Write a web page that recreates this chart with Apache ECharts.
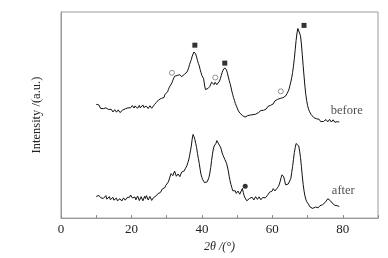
<!DOCTYPE html>
<html><head><meta charset="utf-8">
<script src="https://cdn.jsdelivr.net/npm/echarts@6/dist/echarts.min.js"></script>
<style>html,body{margin:0;padding:0;background:#fff}#c{width:388px;height:258px}</style>
</head><body><div id="c"></div>
<script>
var theta = [10,10.25,10.5,10.75,11,11.25,11.5,11.75,12,12.25,12.5,12.75,13,13.25,13.5,13.75,14,14.25,14.5,14.75,15,15.25,15.5,15.75,16,16.25,16.5,16.75,17,17.25,17.5,17.75,18,18.25,18.5,18.75,19,19.25,19.5,19.75,20,20.25,20.5,20.75,21,21.25,21.5,21.75,22,22.25,22.5,22.75,23,23.25,23.5,23.75,24,24.25,24.5,24.75,25,25.25,25.5,25.75,26,26.25,26.5,26.75,27,27.25,27.5,27.75,28,28.25,28.5,28.75,29,29.25,29.5,29.75,30,30.25,30.5,30.75,31,31.25,31.5,31.75,32,32.25,32.5,32.75,33,33.25,33.5,33.75,34,34.25,34.5,34.75,35,35.25,35.5,35.75,36,36.25,36.5,36.75,37,37.25,37.5,37.75,38,38.25,38.5,38.75,39,39.25,39.5,39.75,40,40.25,40.5,40.75,41,41.25,41.5,41.75,42,42.25,42.5,42.75,43,43.25,43.5,43.75,44,44.25,44.5,44.75,45,45.25,45.5,45.75,46,46.25,46.5,46.75,47,47.25,47.5,47.75,48,48.25,48.5,48.75,49,49.25,49.5,49.75,50,50.25,50.5,50.75,51,51.25,51.5,51.75,52,52.25,52.5,52.75,53,53.25,53.5,53.75,54,54.25,54.5,54.75,55,55.25,55.5,55.75,56,56.25,56.5,56.75,57,57.25,57.5,57.75,58,58.25,58.5,58.75,59,59.25,59.5,59.75,60,60.25,60.5,60.75,61,61.25,61.5,61.75,62,62.25,62.5,62.75,63,63.25,63.5,63.75,64,64.25,64.5,64.75,65,65.25,65.5,65.75,66,66.25,66.5,66.75,67,67.25,67.5,67.75,68,68.25,68.5,68.75,69,69.25,69.5,69.75,70,70.25,70.5,70.75,71,71.25,71.5,71.75,72,72.25,72.5,72.75,73,73.25,73.5,73.75,74,74.25,74.5,74.75,75,75.25,75.5,75.75,76,76.25,76.5,76.75,77,77.25,77.5,77.75,78,78.25,78.5,78.75,79];
var beforeVals = [55.2,54.3,54.4,54.9,54.0,53.2,53.4,54.0,53.1,52.4,53.2,53.5,52.6,53.3,52.7,51.9,52.3,52.8,52.1,51.5,51.8,52.6,52.3,51.4,51.6,52.5,51.9,51.2,51.8,52.0,52.4,53.2,52.7,53.0,53.4,52.9,53.5,54.3,54.2,53.5,54.0,54.6,53.7,53.4,54.4,54.8,53.9,53.3,54.2,54.7,53.5,53.1,54.4,54.9,53.7,53.0,53.4,54.3,54.0,53.2,53.4,54.5,53.9,53.3,54.0,54.2,55.0,55.8,56.0,55.6,56.5,57.4,57.3,57.1,58.1,59.0,58.7,58.5,60.0,60.9,60.8,61.2,62.4,63.5,63.7,64.2,65.6,66.9,67.6,68.8,68.5,68.0,69.2,68.4,68.9,69.6,69.5,68.6,68.5,69.4,69.7,70.5,70.2,70.8,71.8,73.0,74.5,75.8,76.9,78.6,79.4,80.6,80.5,79.6,78.2,76.4,75.0,73.9,72.1,70.6,69.2,68.9,67.6,64.6,62.4,61.6,62.1,62.9,63.7,63.9,64.8,65.9,66.8,65.7,64.8,65.9,65.6,64.7,64.4,65.0,66.5,67.6,69.2,70.6,71.8,72.5,72.9,72.8,71.8,70.3,68.5,66.8,65.3,63.6,61.6,59.9,58.4,57.1,55.6,54.6,53.5,52.4,51.9,51.0,50.8,50.2,49.8,49.1,49.5,49.0,49.2,49.9,49.7,49.0,49.2,50.0,49.8,49.5,50.2,50.6,50.3,50.4,50.8,51.3,51.1,51.0,51.5,52.2,51.9,51.8,52.3,53.0,52.7,52.9,53.5,54.2,54.0,54.1,54.7,55.5,55.2,55.4,56.0,56.9,56.5,56.9,57.6,57.0,57.3,58.1,57.9,57.6,58.4,59.1,58.7,59.2,60.0,60.6,61.6,62.6,64.4,66.0,68.1,70.6,73.7,77.5,81.8,86.2,89.8,92.0,92.7,91.4,88.5,84.5,79.4,74.0,68.9,64.0,60.0,57.0,54.7,53.0,51.9,51.4,50.3,50.2,49.5,48.8,48.7,48.9,48.2,47.6,47.6,48.0,47.3,46.8,47.1,47.6,46.9,46.6,47.3,47.8,46.9,46.7,47.4,47.9,47.1,46.6,47.3,47.7,46.9,46.5,47.4,47.2,46.8,47.1,46.6];
var afterVals = [10.5,9.6,10.2,11.0,10.8,9.9,9.8,10.6,9.5,8.8,10.2,10.9,9.2,8.6,9.8,10.4,8.9,8.3,9.5,10.1,8.7,8.2,9.2,9.7,8.4,8.0,8.9,9.4,8.5,8.3,9.2,9.8,9.5,8.7,8.9,9.9,9.8,10.8,10.2,11.2,10.8,9.8,9.5,10.6,10.2,8.9,9.2,10.7,9.8,8.5,8.9,10.4,9.7,8.4,8.7,10.6,9.5,10.9,10.3,8.8,9.2,10.5,9.8,8.6,8.9,9.9,9.5,10.2,10.8,11.5,11.8,12.2,12.7,12.5,13.2,14.1,14.0,14.0,14.8,15.9,15.6,16.2,17.6,19.0,19.7,21.6,22.4,20.6,21.3,22.8,22.1,20.3,19.7,21.4,21.8,20.1,20.8,22.3,21.8,22.2,22.9,23.9,24.5,25.4,26.9,28.2,30.2,32.6,35.0,38.4,40.6,39.6,38.2,36.2,34.2,31.3,28.9,26.5,23.7,21.2,19.7,18.6,18.1,17.2,16.9,17.4,17.6,18.4,19.7,21.8,24.5,27.9,31.0,33.5,35.0,35.4,36.3,37.6,37.4,36.0,35.3,34.6,33.4,31.6,30.5,29.8,28.5,27.9,26.6,24.8,22.9,20.3,18.1,16.3,14.8,13.3,12.7,13.6,13.2,12.0,12.1,13.1,12.7,11.6,11.1,12.5,14.4,12.4,10.8,9.8,9.5,8.4,8.2,9.3,9.5,8.6,8.9,10.1,9.8,8.8,9.2,10.4,10.2,9.1,9.2,10.3,9.8,8.9,9.2,10.0,10.2,9.4,9.8,10.6,10.8,11.0,11.6,12.6,12.7,12.4,13.2,14.3,14.0,13.2,13.4,14.3,14.8,15.4,16.5,18.0,19.7,21.0,21.3,20.0,18.1,16.2,15.3,15.8,16.5,16.4,17.3,19.2,22.1,25.0,28.5,31.8,34.2,36.2,36.6,36.0,35.0,32.5,29.4,25.0,20.5,16.4,13.2,10.8,9.2,8.0,7.3,6.8,6.0,5.3,5.3,5.8,4.7,4.2,4.7,5.4,5.2,4.6,5.0,5.8,6.0,5.4,5.6,6.5,6.8,7.0,7.6,8.3,8.5,9.4,9.2,8.6,8.4,7.5,7.3,7.6,6.8,6.2,6.3,6.8,6.0,5.4,5.6];
var squareMarks = [[38,83.9],[46.5,75.2],[69,93.5]];
var openCircleMarks = [[31.5,70.5],[43.8,68.2],[62.4,61.5]];
var filledCircleMarks = [[52.3,15.5]];
var curveLabels = [[76.6,52.2,'before'],[76.9,13.5,'after']];
var xTicks = [0,20,40,60,80];

function pairs(xs, ys){ return xs.map(function(x,i){ return [x, ys[i]]; }); }

var chart = echarts.init(document.getElementById('c'));
var serif = '"Liberation Serif","DejaVu Serif",serif';
chart.setOption({
  animation:false,
  backgroundColor:'#fff',
  grid:{left:61,right:10,top:12,bottom:39,show:true,borderColor:'#999',borderWidth:1},
  xAxis:{type:'value',min:0,max:90,interval:10,
    name:'2θ /(°)',nameLocation:'middle',nameGap:20,
    nameTextStyle:{fontFamily:serif,fontSize:12,fontStyle:'italic',color:'#222'},
    axisLine:{show:true,lineStyle:{color:'#999',width:1}},
    axisTick:{show:true,inside:true,length:3,lineStyle:{color:'#888'}},
    axisLabel:{fontFamily:serif,fontSize:13,color:'#222',margin:5,
      formatter:function(v){ return xTicks.indexOf(v)>=0 ? String(v) : ''; }},
    splitLine:{show:false}},
  yAxis:{type:'value',min:0,max:100,
    name:'Intensity /(a.u.)',nameLocation:'middle',nameGap:18,
    nameTextStyle:{fontFamily:serif,fontSize:12.5,color:'#222'},
    axisLine:{show:true,lineStyle:{color:'#999',width:1}},
    axisTick:{show:false},axisLabel:{show:false},splitLine:{show:false}},
  series:[
    {type:'line',data:pairs(theta,beforeVals),symbol:'none',lineStyle:{color:'#111',width:1}},
    {type:'line',data:pairs(theta,afterVals),symbol:'none',lineStyle:{color:'#111',width:1}},
    {type:'scatter',data:squareMarks,symbol:'rect',symbolSize:5,itemStyle:{color:'#000'}},
    {type:'scatter',data:openCircleMarks,symbol:'circle',symbolSize:5,itemStyle:{color:'#fff',borderColor:'#555',borderWidth:0.8}},
    {type:'scatter',data:filledCircleMarks,symbol:'circle',symbolSize:5,itemStyle:{color:'#000'}},
    {type:'scatter',data:curveLabels,symbolSize:0,
      label:{show:true,position:'right',distance:0,fontFamily:serif,fontSize:12.5,color:'#222',
        formatter:function(p){ return p.data[2]; }}}
  ]
});
</script></body></html>
